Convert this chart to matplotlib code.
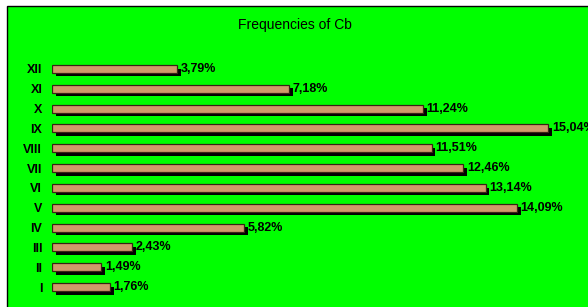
import numpy as np
import matplotlib.pyplot as plt
import matplotlib.patheffects as pe
from matplotlib.patches import Rectangle

# data
months = ['I', 'II', 'III', 'IV', 'V', 'VI', 'VII', 'VIII', 'IX', 'X', 'XI', 'XII']
freq = [1.76, 1.49, 2.43, 5.82, 14.09, 13.14, 12.46, 11.51, 15.04, 11.24, 7.18, 3.79]
labels = ['1,76%', '1,49%', '2,43%', '5,82%', '14,09%', '13,14%', '12,46%',
          '11,51%', '15,04%', '11,24%', '7,18%', '3,79%']

W, H = 588, 307
fig = plt.figure(figsize=(W / 100, H / 100), dpi=100)
fig.patch.set_facecolor('white')

# green plot area with black frame
fig.patches.append(Rectangle((7 / W, -0.1), 1.1, (H - 6) / H + 0.1,
                             transform=fig.transFigure, facecolor='#00ff00',
                             edgecolor='black', linewidth=1, zorder=-5))

fig.text(295 / W, 1 - 25 / H, 'Frequencies of Cb', ha='center', va='center',
         fontsize=10, family='Liberation Sans')

ax = fig.add_axes([52 / W, 10 / H, (W - 52) / W, 238 / H])
ax.set_zorder(5)
ax.set_facecolor('none')
y = np.arange(len(months))
bars = ax.barh(y, freq, height=0.4, color='#d09a6a', edgecolor='#3a2414',
               linewidth=0.9)
for b in bars:
    b.set_path_effects([pe.SimplePatchShadow(offset=(2.6, -2.6), shadow_rgbFace='black',
                                             alpha=1.0), pe.Normal()])
for yi, v, s in zip(y, freq, labels):
    ax.text(v + 0.11, yi, s, va='center', ha='left', fontsize=9,
            fontweight='bold', family='Liberation Sans')

ax.set_xlim(0, (W - 52) / 33)
ax.set_ylim(-0.5, 11.5)
ax.set_yticks(y)
ax.set_yticklabels(months, fontsize=9, fontweight='bold', family='Liberation Sans')
ax.tick_params(axis='y', length=0, pad=7)
ax.set_xticks([])
for sp in ax.spines.values():
    sp.set_visible(False)

fig.savefig('out.png', dpi=100)
